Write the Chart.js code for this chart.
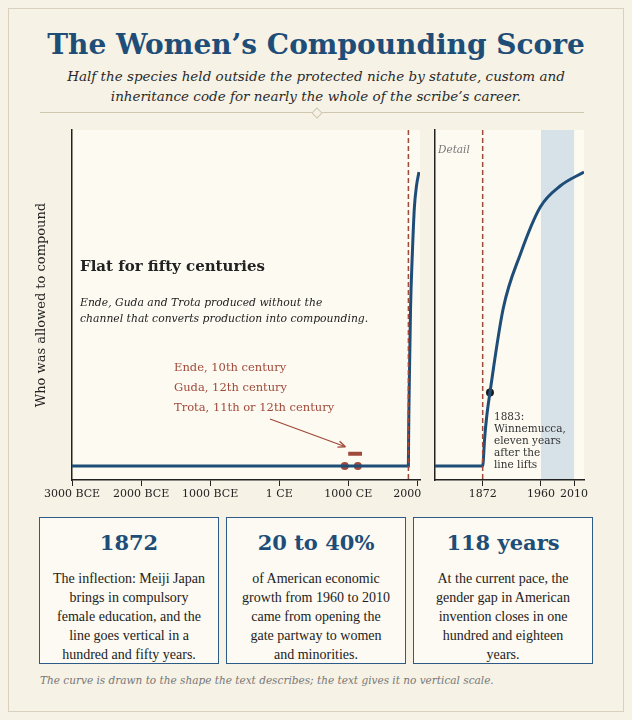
<!DOCTYPE html>
<html>
<head>
<meta charset="utf-8">
<script src="https://cdn.jsdelivr.net/npm/chart.js@4"></script>
<style>
  body { margin:0; background:#f6f2e6; font-family:"DejaVu Serif", serif; }
  #page { position:relative; width:632px; height:720px; }
  #frame { position:absolute; left:8px; top:8px; right:8px; bottom:8px; border:1px solid #d9d1bd; }
  h1 { position:absolute; top:28px; left:0; width:632px; margin:0; text-align:center; color:#1e4d78; font-size:28px; font-weight:bold; }
  #sub { position:absolute; top:66px; left:40px; width:552px; text-align:center; font-style:italic; font-size:13.5px; line-height:20px; color:#2a2a2a; }
  #rule { position:absolute; top:112px; left:40px; width:544px; border-top:1px solid #cfc6b0; }
  #diamond { position:absolute; top:109px; left:313px; width:6px; height:6px; background:#f6f2e6; border:1px solid #cfc6b0; transform:rotate(45deg); }
  canvas { position:absolute; }
  .card { position:absolute; top:517px; height:147px; border:1px solid #2d5b87; background:#fcfaf2; text-align:center; box-sizing:border-box; }
  .card b { display:block; margin-top:12px; color:#1e4d78; font-size:21px; }
  .card p { margin:14px 12px 0; font-family:"Liberation Serif", serif; font-size:14px; line-height:19px; color:#222; }
  #foot { position:absolute; top:674px; left:40px; font-style:italic; font-size:10.5px; color:#777; }
</style>
</head>
<body>
<div id="page">
  <div id="frame"></div>
  <h1>The Women’s Compounding Score</h1>
  <div id="sub">Half the species held outside the protected niche by statute, custom and inheritance code for nearly the whole of the scribe’s career.</div>
  <div id="rule"></div><div id="diamond"></div>
  <canvas id="main" width="395" height="388" style="left:30px;top:122px;width:395px;height:388px"></canvas>
  <canvas id="detail" width="175" height="388" style="left:425px;top:122px;width:175px;height:388px"></canvas>
  <div class="card" style="left:39px;width:180px"><b>1872</b><p>The inflection: Meiji Japan brings in compulsory female education, and the line goes vertical in a hundred and fifty years.</p></div>
  <div class="card" style="left:226px;width:180px"><b>20 to 40%</b><p>of American economic growth from 1960 to 2010 came from opening the gate partway to women and minorities.</p></div>
  <div class="card" style="left:413px;width:180px"><b>118 years</b><p>At the current pace, the gender gap in American invention closes in one hundred and eighteen years.</p></div>
  <div id="foot">The curve is drawn to the shape the text describes; the text gives it no vertical scale.</div>
</div>
<script>
var curveYears = [-3000, 1872, 1875, 1878, 1883, 1903, 1929, 1959, 1989, 2025];
var curveValues = [4, 4, 12, 18, 25, 49, 64.6, 78, 84, 88];
var scribeYears = [950, 1140];   // Ende, Trota
var gudaSpan = [1000, 1200];
var mainTicks = [-3000, -2000, -1000, 1, 1000, 2000];
var mainTickLabels = ['3000 BCE', '2000 BCE', '1000 BCE', '1 CE', '1000 CE', '2000 CE'];
var detailTicks = [1872, 1960, 2010];
var inflection = 1872;
var band = [1960, 2010];
var winnemucca = [1883, 25];

var BLUE = '#1e4d78', RED = '#a04a3b', SERIF = '"DejaVu Serif", serif';

// per-canvas extras, kept out of chart options so Chart.js doesn't resolve them
var extras = {};

function curve(minYear) {
    var pts = [];
    for (var i = 0; i < curveYears.length; i++) {
        if (curveYears[i] >= minYear || i == 0) pts.push({x: Math.max(curveYears[i], minYear), y: curveValues[i]});
    }
    return pts;
}

var panelBg = {
    id: 'panelBg',
    beforeDraw: function(chart) {
        var a = chart.chartArea, c = chart.ctx, x = chart.scales.x;
        var ex = extras[chart.canvas.id];
        c.save();
        c.fillStyle = '#fcfaf1';
        c.fillRect(a.left, a.top, a.right - a.left, a.bottom - a.top);
        if (ex.band) {
            c.fillStyle = 'rgba(160,190,220,0.4)';
            c.fillRect(x.getPixelForValue(ex.band[0]), a.top, x.getPixelForValue(ex.band[1]) - x.getPixelForValue(ex.band[0]), a.bottom - a.top);
        }
        c.restore();
    },
    afterDatasetsDraw: function(chart) {
        var a = chart.chartArea, c = chart.ctx, x = chart.scales.x;
        var px = x.getPixelForValue(inflection);
        c.save();
        c.strokeStyle = RED; c.lineWidth = 1.5; c.setLineDash([5, 3]);
        c.beginPath(); c.moveTo(px, a.top); c.lineTo(px, a.bottom); c.stroke();
        c.restore();
        extras[chart.canvas.id].notes(chart, c, x, chart.scales.y);
    }
};

function axisX(min, max, ticks, labels) {
    return {
        type: 'linear', min: min, max: max,
        afterBuildTicks: function(s) { s.ticks = ticks.map(function(v) { return {value: v}; }); },
        afterFit: function(s) { s.height = 30; s.paddingLeft = 0; s.paddingRight = 0; },
        ticks: { color: '#222', font: {family: SERIF, size: 11}, maxRotation: 0, autoSkip: false, padding: 2,
                 callback: function(v) { return labels ? labels[ticks.indexOf(v)] : String(v); } },
        grid: { drawOnChartArea: false, tickLength: 6, color: '#222' },
        border: { color: '#222', width: 1.5 }
    };
}

extras.main = { notes: function(chart, c, x, y) {
    c.save();
    c.fillStyle = '#222'; c.textBaseline = 'middle';
    c.font = 'bold 15px ' + SERIF;
    c.fillText('Flat for fifty centuries', 50, 145);
    c.font = 'italic 10.8px ' + SERIF;
    c.fillText('Ende, Guda and Trota produced without the', 50, 181);
    c.fillText('channel that converts production into compounding.', 50, 197);
    c.fillStyle = RED; c.font = '11.5px ' + SERIF;
    c.fillText('Ende, 10th century', 144, 246);
    c.fillText('Guda, 12th century', 144, 266);
    c.fillText('Trota, 11th or 12th century', 144, 286);
    var tx = x.getPixelForValue(960), ty = y.getPixelForValue(9.5);
    c.strokeStyle = RED; c.lineWidth = 1.3;
    c.beginPath(); c.moveTo(240, 297); c.lineTo(tx, ty); c.stroke();
    var ang = Math.atan2(ty - 297, tx - 240);
    c.beginPath(); c.moveTo(tx, ty);
    c.lineTo(tx - 8 * Math.cos(ang - 0.4), ty - 8 * Math.sin(ang - 0.4));
    c.moveTo(tx, ty);
    c.lineTo(tx - 8 * Math.cos(ang + 0.4), ty - 8 * Math.sin(ang + 0.4));
    c.stroke();
    c.restore();
} };

extras.detail = { band: band, notes: function(chart, c, x, y) {
    c.save();
    c.fillStyle = '#777'; c.textBaseline = 'middle';
    c.font = 'italic 10.5px ' + SERIF;
    c.fillText('Detail', 13, 28);
    c.fillStyle = '#333'; c.font = '10.5px ' + SERIF;
    var lines = ['1883:', 'Winnemucca,', 'eleven years', 'after the', 'line lifts'];
    for (var i = 0; i < lines.length; i++) c.fillText(lines[i], 69, 295 + i * 12);
    c.restore();
} };

new Chart(document.getElementById('main'), {
    type: 'line',
    data: { datasets: [
        { data: curve(-3000), borderColor: BLUE, borderWidth: 3, pointRadius: 0, cubicInterpolationMode: 'monotone' },
        { data: scribeYears.map(function(v) { return {x: v, y: 4}; }), showLine: false, pointRadius: 4, pointBackgroundColor: RED, pointBorderWidth: 0 },
        { data: gudaSpan.map(function(v) { return {x: v, y: 7.5}; }), borderColor: RED, borderWidth: 4, pointRadius: 0 }
    ]},
    options: {
        responsive: false, animation: false,
        layout: { padding: { top: 8, right: 5 } },
        scales: {
            x: axisX(-3000, 2040, mainTicks, mainTickLabels),
            y: { min: 0, max: 100, ticks: { display: false }, grid: { display: false },
                 border: { color: '#222', width: 1.5 },
                 afterFit: function(s) { s.width = 42; },
                 title: { display: true, text: 'Who was allowed to compound', color: '#222', font: {family: SERIF, size: 13} } }
        },
        plugins: { legend: { display: false }, tooltip: { enabled: false } }
    },
    plugins: [panelBg]
});

new Chart(document.getElementById('detail'), {
    type: 'line',
    data: { datasets: [
        { data: curve(1800), borderColor: BLUE, borderWidth: 3, pointRadius: 0, cubicInterpolationMode: 'monotone' },
        { data: [{x: winnemucca[0], y: winnemucca[1]}], showLine: false, pointRadius: 4, pointBackgroundColor: '#1a1a1a', pointBorderWidth: 0 }
    ]},
    options: {
        responsive: false, animation: false,
        layout: { padding: { top: 8, right: 16 } },
        scales: {
            x: axisX(1800, 2025, detailTicks, null),
            y: { min: 0, max: 100, ticks: { display: false }, grid: { display: false },
                 border: { color: '#222', width: 1.5 }, afterFit: function(s) { s.width = 10; } }
        },
        plugins: { legend: { display: false }, tooltip: { enabled: false } }
    },
    plugins: [panelBg]
});
</script>
</body>
</html>
